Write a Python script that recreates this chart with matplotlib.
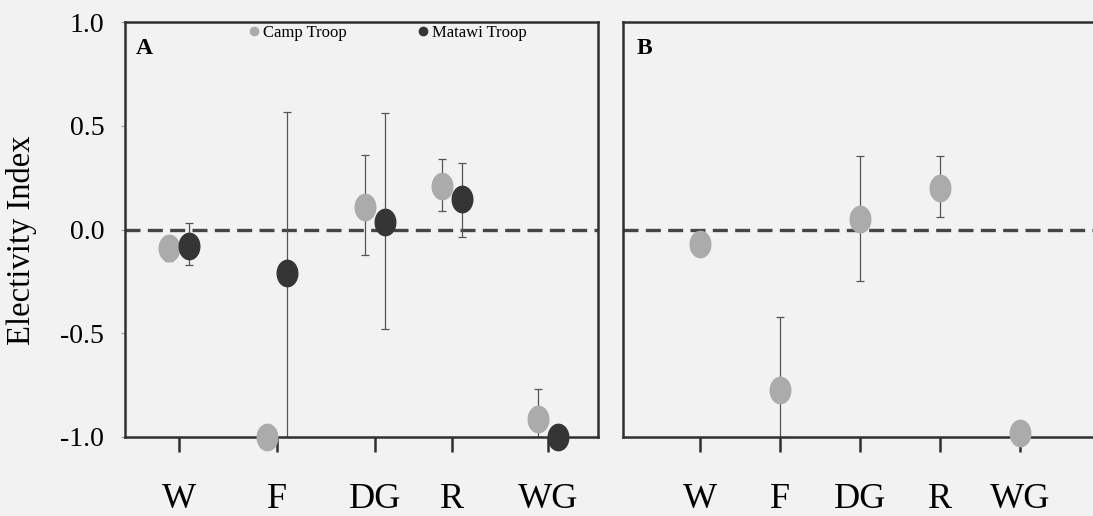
import numpy as np
import matplotlib
matplotlib.use("Agg")
import matplotlib.pyplot as plt
from matplotlib.path import Path
from matplotlib.transforms import Affine2D
from matplotlib.lines import Line2D

# Categorias (tipos de alimento)
categorias = ["W", "F", "DG", "R", "WG"]

# Panel A - Camp Troop
camp_a = [-0.09, -1.00, 0.11, 0.21, -0.915]
camp_a_sup = [-0.03, -1.00, 0.36, 0.34, -0.77]
camp_a_inf = [-0.15, -1.00, -0.125, 0.09, -1.00]

# Panel A - Matawi Troop
matawi_a = [-0.08, -0.21, 0.035, 0.145, -1.00]
matawi_a_sup = [0.03, 0.565, 0.56, 0.32, -1.00]
matawi_a_inf = [-0.17, -1.00, -0.48, -0.035, -1.00]

# Panel B - Camp Troop
camp_b = [-0.07, -0.775, 0.05, 0.20, -0.98]
camp_b_sup = [-0.03, -0.42, 0.355, 0.355, -0.98]
camp_b_inf = [-0.12, -1.00, -0.25, 0.06, -0.98]

# posiciones en el eje x (el original no es regular en A)
pos_a = np.array([1, 2, 3, 3.79, 4.77])
pos_b = np.arange(1, 6)
desplaz = 0.1

fondo = "#f2f2f2"
gris_claro = "#ababab"
gris_oscuro = "#353535"
linea = "#303030"

plt.rcParams["font.family"] = ["Liberation Serif", "DejaVu Serif"]

# marcador eliptico (mas alto que ancho, como en el escaneo)
circ = Path.unit_circle()
elipse = Path(Affine2D().scale(0.78, 1.0).transform(circ.vertices), circ.codes)

fig = plt.figure(figsize=(10.93, 5.16), dpi=100, facecolor=fondo)
ax_a = fig.add_axes([125 / 1093, 1 - 437 / 516, 473 / 1093, 415 / 516])
ax_b = fig.add_axes([623 / 1093, 1 - 437 / 516, 470 / 1093, 415 / 516])


def dibujar(ax, x, y, sup, inf, color):
    y = np.array(y)
    err = [y - np.array(inf), np.array(sup) - y]
    ax.errorbar(x, y, yerr=err, fmt="none", ecolor="#555555", elinewidth=0.9,
                capsize=3, capthick=0.9, zorder=2)
    ax.plot(x, y, linestyle="none", marker=elipse, markersize=19,
            markerfacecolor=color, markeredgecolor=color, zorder=3,
            clip_on=False)


for ax in (ax_a, ax_b):
    ax.set_facecolor(fondo)
    ax.axhline(0, color="#454545", linewidth=2.4, dashes=(4.5, 2.2), zorder=1)
    ax.set_ylim(-1.0, 1.0)
    for s in ax.spines.values():
        s.set_linewidth(1.8)
        s.set_color(linea)
    ax.tick_params(axis="x", direction="out", length=11, width=1.8,
                   color=linea, labelsize=26, pad=22)
    ax.tick_params(axis="y", direction="out", length=3, width=0.8,
                   color="#999999", labelsize=20, pad=12)

# Panel A
dibujar(ax_a, pos_a - desplaz, camp_a, camp_a_sup, camp_a_inf, gris_claro)
dibujar(ax_a, pos_a + desplaz, matawi_a, matawi_a_sup, matawi_a_inf, gris_oscuro)
ax_a.set_xlim(0.45, 5.28)
ax_a.set_xticks(pos_a)
ax_a.set_xticklabels(categorias)
ax_a.set_yticks([-1.0, -0.5, 0.0, 0.5, 1.0])
ax_a.set_yticklabels(["-1.0", "-0.5", "0.0", "0.5", "1.0"])
ax_a.set_ylabel("Electivity Index", fontsize=23.5)
ax_a.yaxis.set_label_coords(-0.186, 0.475)
ax_a.text(0.022, 0.935, "A", transform=ax_a.transAxes, fontsize=17,
          fontweight="bold", va="center", ha="left")

leyenda = [
    Line2D([], [], linestyle="none", marker="o", markersize=6,
           color=gris_claro, label="Camp Troop"),
    Line2D([], [], linestyle="none", marker="o", markersize=6,
           color=gris_oscuro, label="Matawi Troop"),
]
ax_a.legend(handles=leyenda, loc="upper left", bbox_to_anchor=(0.235, 1.026),
            ncol=2, frameon=False, fontsize=12, handlelength=0.6,
            handletextpad=0.2, columnspacing=4.3, borderaxespad=0.4)

# Panel B
dibujar(ax_b, pos_b, camp_b, camp_b_sup, camp_b_inf, gris_claro)
ax_b.set_xlim(0.04, 5.91)
ax_b.set_xticks(pos_b)
ax_b.set_xticklabels(categorias)
ax_b.set_yticks([])
ax_b.spines["right"].set_visible(False)
ax_b.text(0.03, 0.935, "B", transform=ax_b.transAxes, fontsize=17,
          fontweight="bold", va="center", ha="left")

fig.savefig("out.png", dpi=100, facecolor=fondo)
